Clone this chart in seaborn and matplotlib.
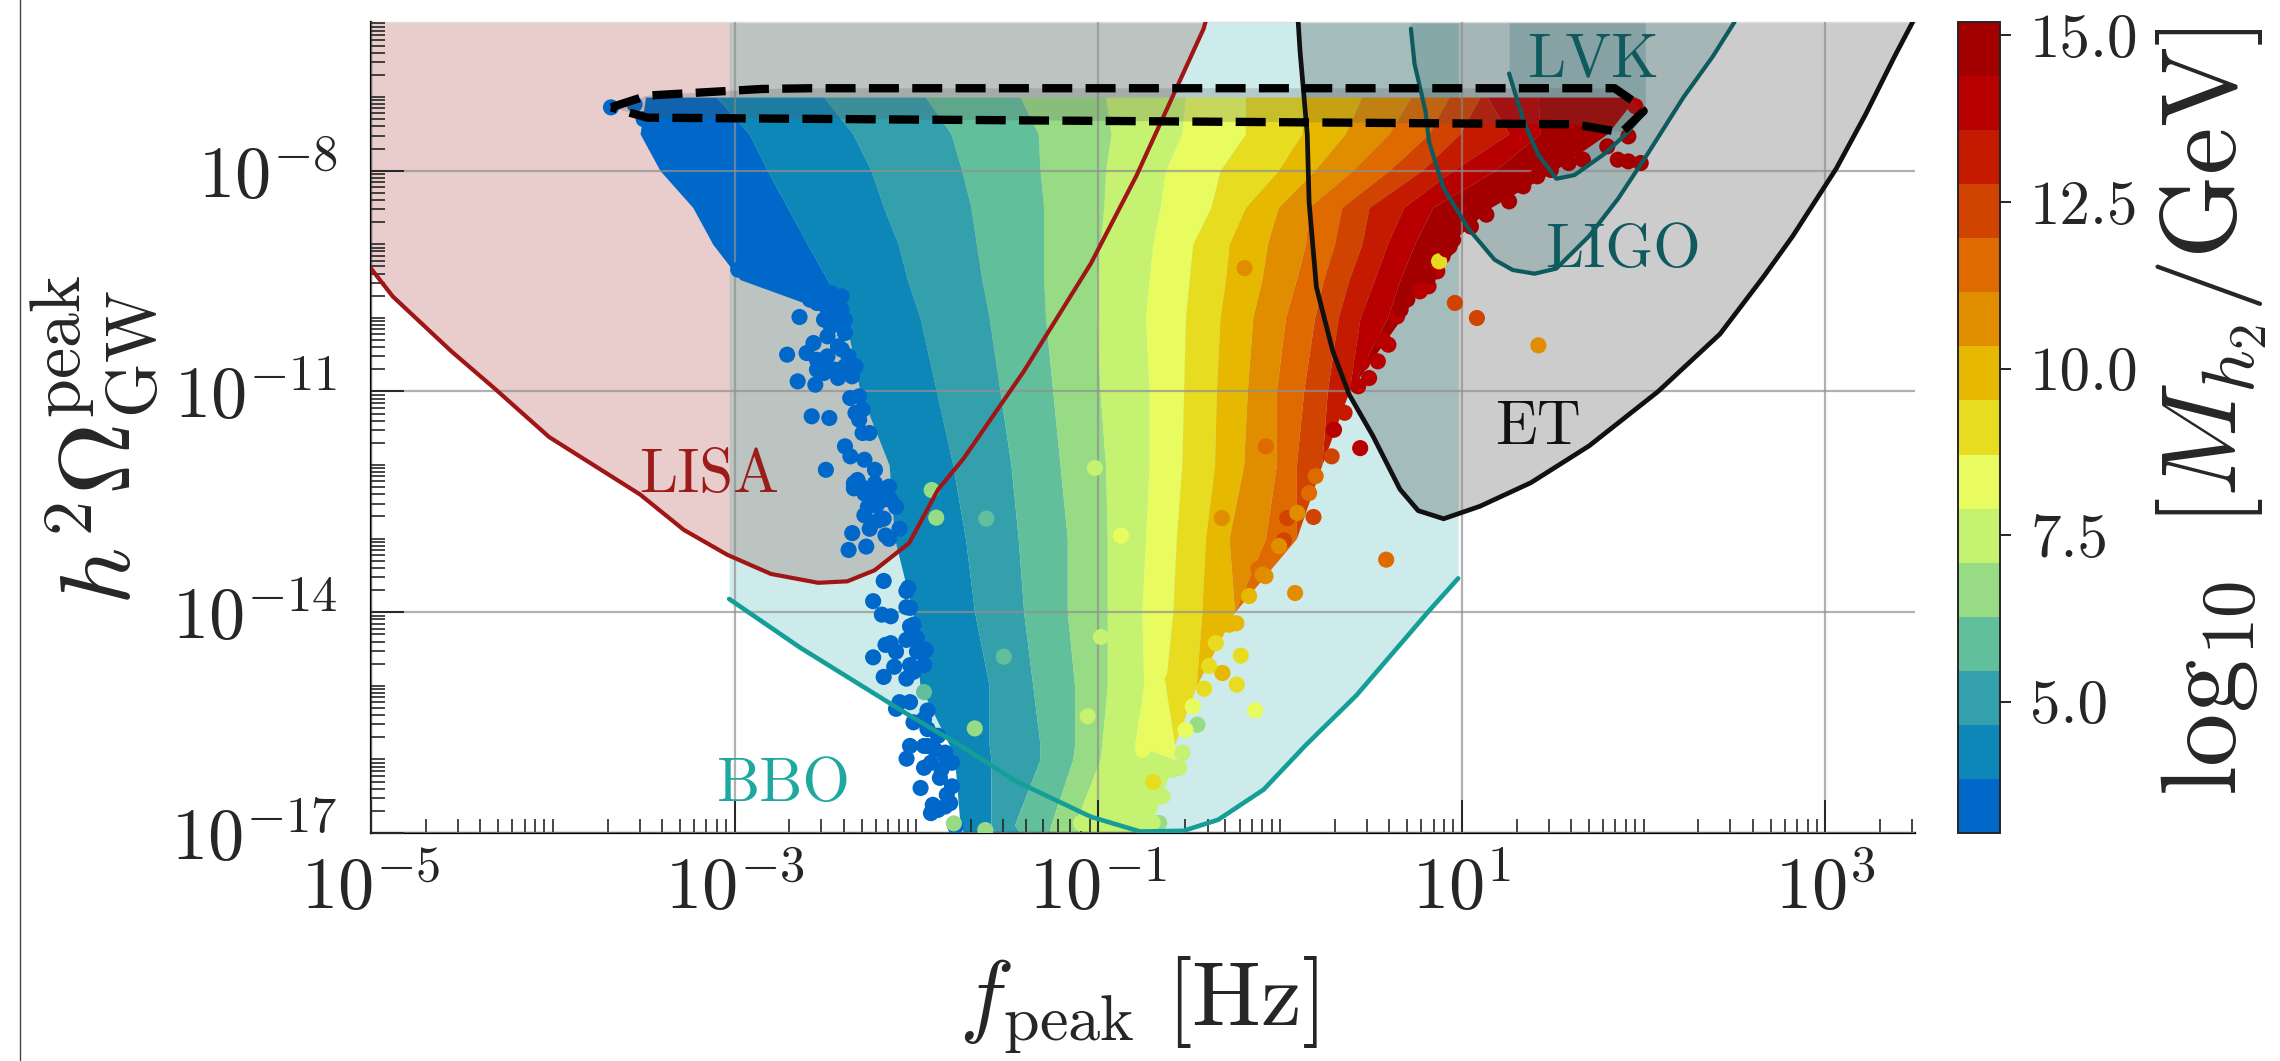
import numpy as np
import pandas as pd
import matplotlib
matplotlib.use('Agg')
import matplotlib.pyplot as plt
import seaborn as sns
from matplotlib.colors import ListedColormap, BoundaryNorm
from matplotlib.cm import ScalarMappable
from matplotlib.lines import Line2D

# Detector sensitivity curves, log10 f and log10 h^2 Omega
lisa_f = [-5.0, -4.88, -4.56, -4.32, -4.02, -3.52, -3.28, -3.04, -2.80, -2.54, -2.38, -2.23, -2.04, -1.88, -1.74, -1.41, -1.04, -0.79, -0.42, -0.41]
lisa_om = [-9.33, -9.71, -10.45, -10.96, -11.62, -12.40, -12.88, -13.22, -13.48, -13.60, -13.58, -13.43, -13.06, -12.33, -11.91, -10.73, -9.26, -8.07, -6.07, -5.98]
bbo_f = [-3.03, -2.64, -2.04, -1.76, -1.45, -1.04, -0.77, -0.53, -0.34, -0.09, 0.14, 0.42, 0.66, 0.82, 0.98]
bbo_om = [-13.82, -14.48, -15.40, -15.81, -16.30, -16.78, -16.98, -16.97, -16.82, -16.41, -15.81, -15.13, -14.44, -13.98, -13.54]
et_f = [0.10, 0.11, 0.15, 0.16, 0.20, 0.29, 0.38, 0.51, 0.66, 0.76, 0.90, 1.10, 1.38, 1.70, 2.08, 2.42, 2.66, 2.82, 3.06, 3.22, 3.38, 3.48]
et_om = [-5.98, -6.37, -7.51, -8.43, -9.58, -10.45, -11.04, -11.60, -12.33, -12.62, -12.73, -12.56, -12.24, -11.74, -11.00, -10.22, -9.44, -8.89, -7.97, -7.24, -6.45, -5.98]
ligo_f = [0.72, 0.74, 0.80, 0.82, 0.90, 1.04, 1.18, 1.28, 1.40, 1.52, 1.70, 1.86, 2.02, 2.22, 2.38, 2.50]
ligo_om = [-6.07, -6.55, -7.19, -7.61, -8.24, -8.80, -9.21, -9.35, -9.40, -9.33, -8.89, -8.38, -7.78, -7.00, -6.45, -5.98]
lvk_f = [1.26, 1.34, 1.42, 1.52, 1.62, 1.78, 1.90, 2.01]
lvk_om = [-6.68, -7.33, -7.78, -8.11, -8.06, -7.78, -7.51, -7.19]

# Dashed outline around the strong transition region
region_f = [-3.68, -3.48, -2.85, -2.58, 1.84, 1.94, 2.00, 1.88, 1.62, -3.48, -3.68]
region_om = [-7.14, -6.98, -6.89, -6.88, -6.88, -7.05, -7.19, -7.48, -7.37, -7.28, -7.14]

# Colour bands of the scan: band edges in log10 f at these log10 Omega rows
band_rows = [-7.0, -7.5, -8.0, -8.5, -9.0, -9.48, -10.0, -11.0, -12.0, -13.0, -14.0, -15.0, -15.8, -16.0, -16.89, -17.0]
edge_0 = [-3.49, -3.52, -3.41, -3.23, -3.12, -2.97, -2.39, -2.31, -2.15, -2.12, -2.02, -1.98, -1.82, -1.79, -1.76, -1.74]
edge_1 = [-3.10, -2.92, -2.82, -2.71, -2.60, -2.49, -2.39, -2.31, -2.15, -2.12, -2.02, -1.98, -1.82, -1.79, -1.76, -1.74]
edge_2 = [-2.51, -2.35, -2.25, -2.18, -2.10, -2.05, -1.98, -1.89, -1.80, -1.73, -1.68, -1.60, -1.60, -1.59, -1.59, -1.57]
edge_3 = [-1.95, -1.81, -1.75, -1.70, -1.67, -1.64, -1.60, -1.54, -1.48, -1.44, -1.41, -1.36, -1.32, -1.32, -1.46, -1.43]
edge_4 = [-1.43, -1.33, -1.32, -1.30, -1.30, -1.30, -1.29, -1.25, -1.21, -1.17, -1.17, -1.13, -1.13, -1.14, -1.26, -1.27]
edge_5 = [-0.96, -0.93, -0.96, -0.97, -0.99, -1.01, -1.01, -0.99, -0.96, -0.95, -0.95, -0.95, -0.98, -0.99, -1.13, -1.10]
edge_6 = [-0.52, -0.54, -0.63, -0.66, -0.70, -0.72, -0.74, -0.72, -0.72, -0.74, -0.76, -0.75, -0.80, -0.58, -0.71, -0.72]
edge_7 = [-0.19, -0.19, -0.33, -0.38, -0.48, -0.50, -0.52, -0.53, -0.54, -0.57, -0.59, -0.63, -0.58, -0.58, -0.71, -0.72]
edge_8 = [0.14, 0.12, -0.01, -0.19, -0.28, -0.30, -0.33, -0.35, -0.36, -0.41, -0.43, -0.46, -0.58, -0.58, -0.71, -0.72]
edge_9 = [0.45, 0.36, 0.19, -0.01, -0.07, -0.10, -0.15, -0.18, -0.20, -0.28, -0.25, -0.46, -0.58, -0.58, -0.71, -0.72]
edge_10 = [0.72, 0.60, 0.40, 0.16, 0.14, 0.09, 0.03, -0.02, -0.02, -0.08, -0.25, -0.46, -0.58, -0.58, -0.71, -0.72]
edge_11 = [0.93, 0.82, 0.60, 0.34, 0.30, 0.24, 0.19, 0.13, 0.09, 0.09, -0.25, -0.46, -0.58, -0.58, -0.71, -0.72]
edge_12 = [1.10, 0.99, 0.78, 0.49, 0.45, 0.38, 0.32, 0.26, 0.23, 0.09, -0.25, -0.46, -0.58, -0.58, -0.71, -0.72]
edge_13 = [1.14, 1.26, 0.95, 0.68, 0.59, 0.52, 0.44, 0.38, 0.23, 0.09, -0.25, -0.46, -0.58, -0.58, -0.71, -0.72]
edge_14 = [1.42, 1.43, 1.18, 0.84, 0.74, 0.66, 0.59, 0.38, 0.23, 0.09, -0.25, -0.46, -0.58, -0.58, -0.71, -0.72]
edge_15 = [1.96, 1.80, 1.51, 1.16, 0.93, 0.80, 0.67, 0.38, 0.23, 0.09, -0.25, -0.46, -0.58, -0.58, -0.71, -0.72]
band_edges = [edge_0, edge_1, edge_2, edge_3, edge_4, edge_5, edge_6, edge_7, edge_8, edge_9,
              edge_10, edge_11, edge_12, edge_13, edge_14, edge_15]
band_colors = ['#0068c8', '#0c87b8', '#34a0ab', '#62bf9c', '#97dc85', '#c5f270', '#e8fc60', '#e8dc20',
               '#e6b800', '#e08e00', '#de6a00', '#d04300', '#c41a00', '#b80000', '#a50000']

# Separate scan points that sit off the bands
blue_f = [-3.68, -3.55, -3.50, -3.42, -2.643, -2.508, -2.711, -2.604, -2.566, -2.547, -2.653, -2.556, -2.431, -2.489, -2.431, -2.585, -2.576, -2.836, -2.682, -2.980,
          -2.364, -2.335, -2.576, -2.479, -2.296, -2.393, -2.508, -2.47, -2.547, -2.41, -2.51, -2.498, -2.344, -2.267, -2.19, -2.286, -2.18, -2.257, -2.353, -2.151,
          -2.373, -2.276, -2.18, -2.045, -2.238, -2.055, -2.19, -2.141, -2.035, -2.141, -2.055, -2.238, -1.948, -2.122, -2.18, -2.016, -2.055, -2.093, -2.035, -1.939,
          -2.016, -2.035, -2.054, -1.939, -1.842, -1.958, -1.871, -1.977, -1.833, -1.91, -1.92, -1.814, -1.785, -2.30, -2.24, -2.22,
          -2.585, -2.527, -2.47, -2.412, -2.547, -2.489, -2.412, -2.393, -2.47, -2.393, -2.431, -2.373, -2.335, -2.489, -2.508, -2.45, -2.354, -2.315, -2.296, -2.315, -2.258, -2.393,
          -2.363, -2.286, -2.228, -2.324, -2.228, -2.151, -2.286, -2.209, -2.141, -2.112, -2.344, -2.267, -2.17, -2.093, -2.209, -2.055, -2.035, -2.016, -1.997, -2.17, -2.112, -2.035, -1.997, -1.958, -2.112, -1.958, -1.939, -1.881, -1.958, -1.90, -1.842, -1.804, -1.862, -1.92, -1.804, -1.842, -1.881]
blue_om = [-7.14, -7.10, -7.30, -7.50, -9.989, -10.025, -10.50, -10.478, -10.342, -10.704, -10.863, -10.908, -10.817, -10.251, -10.025, -9.753, -9.527, -9.481, -9.481, -9.345,
           -11.089, -11.293, -11.338, -11.361, -11.565, -10.659, -9.66, -9.75, -10.57, -10.43, -10.75, -12.065, -12.248, -12.34, -12.477, -12.683, -12.729, -12.866, -12.925, -13.003,
           -13.154, -13.108, -13.575, -13.667, -13.85, -13.932, -14.033, -14.055, -14.192, -14.421, -14.376, -14.613, -14.513, -14.741, -14.879, -14.81, -14.902, -15.222, -15.222, -15.336,
           -15.496, -15.817, -15.99, -15.817, -15.954, -16.114, -16.251, -16.388, -16.48, -16.617, -16.73, -16.594, -16.914, -12.30, -12.42, -12.55,
           -9.663, -9.663, -9.663, -9.708, -9.798, -9.889, -9.889, -10.025, -10.115, -10.206, -10.387, -10.523, -10.659, -10.523, -10.659, -10.704, -10.795, -11.067, -11.248, -11.384, -11.565, -11.746,
           -11.882, -11.928, -12.065, -12.203, -12.248, -12.294, -12.386, -12.386, -12.477, -12.569, -12.317, -12.569, -12.957, -12.866, -12.752, -13.712, -13.941, -14.170, -14.353, -14.444, -14.536, -14.719, -14.536, -14.719, -15.313, -15.451, -15.588, -15.679, -15.817, -15.862, -15.908, -16.045, -16.137, -16.045, -16.366, -16.64, -16.686]
spot_f = [-0.195, 0.075, 0.297, 0.441, 0.962, 1.083, 1.421, 0.865, 0.817, 0.769, 0.644, 0.596, 0.538, 0.49, 1.26, 1.135, 1.916, 1.984, 1.858, 1.955, 1.916, 1.588, 1.415, 1.338, 0.933, 0.894,
          0.284, -0.078, 0.184, 0.04, 0.022, 0.584, -0.32, -0.119, -0.097, 0.083, -0.216, -0.317, -0.238, -0.417, -0.137, -0.454, -0.536, -0.555, -0.698, -0.665, -0.875, -1.018, -0.985, -1.058, -1.095, -0.371, -0.28,
          -1.916, -1.891, -1.615, -1.519, -1.958, -1.679, -1.794, -1.621, 0.875,
          1.80, 1.666, 1.49, 1.30, 1.05, 0.952, 0.914, 0.817, 0.70, 0.663, 0.567, 0.451, 0.43, 0.355,
          0.196, 0.16, 0.095, -0.005, -0.08, -0.17, -0.24, -0.353, -0.39, -0.50, -0.59, -0.48, -0.52, -0.63, -0.756, -0.59, -0.646, -0.70]
spot_om = [-9.323, -11.248, -11.52, -11.77, -9.798, -10.002, -10.374, -9.368, -9.572, -9.64, -9.98, -10.365, -10.591, -10.818, -8.417, -8.598, -7.874, -7.896, -7.851, -7.126, -7.534, -7.896, -8.077, -8.213, -9.03, -9.164,
           -11.882, -11.746, -12.706, -12.72, -13.023, -13.286, -12.72, -13.412, -13.49, -13.739, -14.59, -14.826, -14.984, -15.04, -15.333, -15.528, -15.912, -16.116, -16.306, -16.864, -12.96, -12.04, -14.336, -15.414, -16.864, -14.19, -14.17,
           -12.34, -12.715, -12.729, -14.604, -15.085, -15.579, -16.869, -16.96, -9.232,
           -7.67, -7.85, -7.99, -8.17, -8.76, -8.94, -9.07, -9.44, -9.75, -9.89, -10.30, -10.61, -10.93, -11.29,
           -12.15, -12.38, -12.65, -13.10, -13.51, -13.78, -14.15, -14.42, -14.73, -14.92, -14.92, -15.28, -15.6, -15.73, -15.87, -16.14, -16.5, -16.86]
spot_m = [10.73, 11.54, 13.97, 13.97, 12.35, 12.35, 10.73, 13.97, 13.97, 13.97, 13.97, 13.97, 13.97, 13.97, 14.78, 14.78, 14.78, 14.78, 14.78, 13.97, 14.78, 14.78, 14.78, 14.78, 14.78, 14.78,
          12.35, 11.54, 12.35, 12.35, 12.35, 11.54, 10.73, 11.54, 10.73, 10.73, 9.11, 9.92, 9.11, 9.11, 8.30, 6.68, 7.49, 7.49, 9.11, 6.68, 8.30, 7.49, 7.49, 7.49, 7.49, 9.92, 9.92,
          6.68, 6.68, 5.87, 5.87, 5.87, 6.68, 6.68, 6.68, 9.11,
          14.78, 14.78, 14.78, 14.78, 14.78, 14.78, 14.78, 14.78, 14.78, 14.78, 13.97, 13.97, 13.97, 13.16,
          11.54, 11.54, 10.73, 10.73, 10.73, 9.92, 9.92, 9.11, 9.11, 9.11, 9.11, 8.30, 8.30, 8.30, 8.30, 7.49, 7.49, 7.49]
blue_m = [3.44] * len(blue_f)

sns.set_style('ticks')
plt.rcParams['font.family'] = ['cmr10', 'DejaVu Sans']
plt.rcParams['mathtext.fontset'] = 'cm'
plt.rcParams['axes.formatter.use_mathtext'] = True
plt.rcParams['axes.unicode_minus'] = False

W, H = 2280, 1061
fig = plt.figure(figsize=(W / 100, H / 100), dpi=100)
ax = fig.add_axes([371 / W, 1 - 833 / H, (1914.5 - 371) / W, (833 - 22) / H])
cax = fig.add_axes([1958 / W, 1 - 833 / H, (1999.6 - 1958) / W, (833 - 22) / H])
fig.add_artist(Line2D([20 / W, 20 / W], [0, 1], color='#444444', lw=1))

ax.set_xscale('log')
ax.set_yscale('log')
ax.set_xlim(1e-5, 10 ** 3.49)
ax.set_ylim(1e-17, 10 ** -5.98)


def p10(vals):
    return np.power(10.0, np.array(vals))


top = 1e-5

# Shaded sensitivity regions under the scan
for fx, om, col, a in [(lisa_f, lisa_om, '#9c1a1a', 0.22), (bbo_f, bbo_om, '#1fa8a0', 0.22),
                       (et_f, et_om, '#000000', 0.2), (ligo_f, ligo_om, '#0f5a5e', 0.2),
                       (lvk_f, lvk_om, '#0f5a5e', 0.2)]:
    ax.fill_between(p10(fx), p10(om), top, color=col, alpha=a, lw=0, zorder=1)

# Bands
for i, col in enumerate(band_colors):
    ax.fill_betweenx(p10(band_rows), p10(band_edges[i]), p10(band_edges[i + 1]), color=col, lw=0, zorder=2)

levels = np.linspace(3.03, 15.2, 16)
cmap = ListedColormap(band_colors)
norm = BoundaryNorm(levels, cmap.N)

points = pd.DataFrame({'f': p10(blue_f + spot_f), 'omega': p10(blue_om + spot_om), 'm': blue_m + spot_m})
sns.scatterplot(data=points, x='f', y='omega', hue='m', palette=cmap, hue_norm=norm, s=135,
                linewidth=0, legend=False, ax=ax, zorder=3)

# Dashed region on top of the scan
ax.fill(p10(region_f), p10(region_om), color='#555555', alpha=0.22, lw=0, zorder=4)

for fx, om, col, lw in [(lisa_f, lisa_om, '#a01515', 3.0), (bbo_f, bbo_om, '#159e98', 3.3), (et_f, et_om, '#111111', 3.4),
                        (ligo_f, ligo_om, '#0f5a5e', 3.0), (lvk_f, lvk_om, '#0f5a5e', 3.0)]:
    sns.lineplot(x=p10(fx), y=p10(om), color=col, lw=lw, estimator=None, sort=False, ax=ax, zorder=5)

ax.plot(p10(region_f), p10(region_om), color='black', lw=6, linestyle=(0, (3.6, 1.6)), zorder=6)

ax.text(10 ** -3.14, 10 ** -12.15, 'LISA', color='#9c1c1c', fontsize=44, ha='center', va='center', zorder=7)
ax.text(10 ** -2.73, 10 ** -16.35, 'BBO', color='#1fa8a0', fontsize=44, ha='center', va='center', zorder=7)
ax.text(10 ** 1.72, 10 ** -6.5, 'LVK', color='#0f5a5e', fontsize=44, ha='center', va='center', zorder=7)
ax.text(10 ** 1.885, 10 ** -9.1, 'LIGO', color='#0f5a5e', fontsize=44, ha='center', va='center', zorder=7)
ax.text(10 ** 1.42, 10 ** -11.5, 'ET', color='#111111', fontsize=44, ha='center', va='center', zorder=7)

# Axes, ticks, grid
x_major = [-5, -3, -1, 1, 3]
y_major = [-8, -11, -14, -17]
ax.set_xticks([10.0 ** d for d in x_major])
ax.set_xticklabels([rf'$10^{{{d}}}$' for d in x_major])
ax.set_yticks([10.0 ** d for d in y_major])
ax.set_yticklabels([rf'$10^{{{d}}}$' for d in y_major])
ax.set_xticks([k * 10.0 ** d for d in range(-5, 4) for k in range(1, 10)
               if not (k == 1 and d in x_major) and k * 10.0 ** d < 10 ** 3.49], minor=True)
ax.set_yticks([k * 10.0 ** d for d in range(-17, -5) for k in range(1, 10)
               if not (k == 1 and d in y_major) and k * 10.0 ** d < 10 ** -5.98], minor=True)
ax.xaxis.set_minor_formatter(plt.NullFormatter())
ax.yaxis.set_minor_formatter(plt.NullFormatter())
ax.tick_params(which='major', direction='in', length=24, width=1.4, labelsize=52)
ax.tick_params(which='minor', direction='in', length=10, width=1.2)
ax.tick_params(axis='x', which='major', pad=16)
ax.tick_params(axis='y', which='major', pad=24)
ax.grid(True, which='major', color='#909090', alpha=0.7, lw=1.6, zorder=1.5)
ax.set_axisbelow(False)
for line in ax.get_xgridlines() + ax.get_ygridlines():
    line.set_zorder(1.5)
for s in ['left', 'bottom']:
    ax.spines[s].set_linewidth(1.6)
    ax.spines[s].set_color('black')
ax.spines['top'].set_color('#dddddd')
ax.spines['top'].set_linewidth(1)
ax.spines['right'].set_visible(False)

ax.set_xlabel(r'$f_{\rm peak}\ [{\rm Hz}]$', fontsize=66)
ax.xaxis.set_label_coords((1138 - 371) / (1914.5 - 371), -(1005 - 833) / (833 - 22), transform=ax.transAxes)
ax.xaxis.label.set_va('center')
ax.set_ylabel(r'$h^2\Omega_{\rm GW}^{\rm peak}$', fontsize=72)
ax.yaxis.set_label_coords(-(371 - 95) / (1914.5 - 371), (833 - 440) / (833 - 22), transform=ax.transAxes)
ax.yaxis.label.set_va('center')

cb = fig.colorbar(ScalarMappable(norm=norm, cmap=cmap), cax=cax, boundaries=levels, spacing='proportional',
                  ticks=[5.0, 7.5, 10.0, 12.5, 15.0])
cb.ax.set_yticklabels(['5.0', '7.5', '10.0', '12.5', '15.0'])
cb.ax.tick_params(length=8, width=1.4, labelsize=44, pad=14)
cb.ax.minorticks_off()
cb.outline.set_linewidth(1.4)
cb.set_label(r'$\log_{10}\ [M_{h_2}/{\rm GeV}]$', fontsize=77)
cb.ax.yaxis.set_label_coords((2212 - 1958) / (1999.6 - 1958), (833 - 412) / (833 - 22), transform=cb.ax.transAxes)
cb.ax.yaxis.label.set_va('center')

fig.savefig('out.png', dpi=100)
